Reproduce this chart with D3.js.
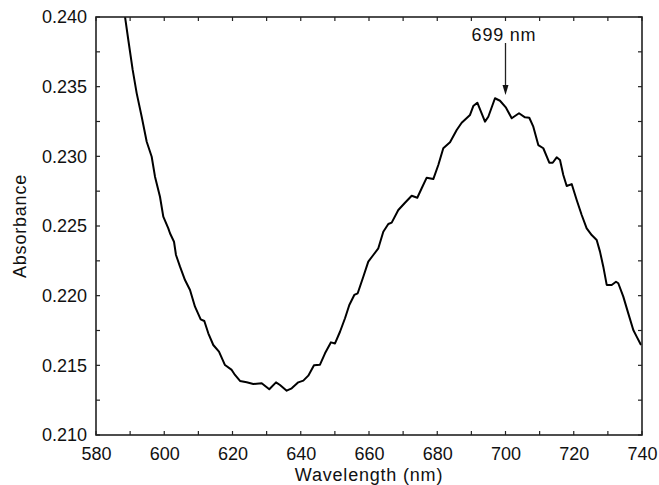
<!DOCTYPE html>
<html>
<head>
<meta charset="utf-8">
<script src="https://cdn.jsdelivr.net/npm/d3@7"></script>
<style>
  html, body { margin: 0; padding: 0; background: #fff; }
  text { font-family: "Liberation Sans", Arial, Helvetica, sans-serif; fill: #111; }
</style>
</head>
<body>
<svg id="chart" width="659" height="485"></svg>
<script>
// ---- data ----
const wavelength = [
  588.50, 589.47, 590.75, 591.93, 593.39, 594.86, 596.32, 597.29, 598.75, 599.72,
  601.19, 601.68, 602.86, 603.44, 604.62, 606.08, 607.55, 609.01, 610.68, 611.74,
  612.91, 614.37, 616.04, 617.80, 619.77, 620.73, 622.20, 624.16, 626.09, 628.56,
  630.78, 632.75, 633.92, 635.88, 637.35, 639.28, 640.75, 642.21, 643.88, 645.64,
  647.11, 648.86, 650.04, 651.50, 652.97, 654.23, 655.69, 656.69, 658.33, 659.79,
  661.26, 662.73, 664.19, 665.66, 666.65, 668.59, 670.55, 672.51, 674.15, 675.44,
  676.91, 678.84, 680.31, 681.77, 683.74, 685.70, 687.16, 689.60, 690.56, 691.74,
  693.99, 694.96, 696.92, 698.39, 700.15, 701.82, 703.96, 705.71, 706.97, 708.15,
  709.61, 711.08, 712.83, 713.83, 715.00, 715.97, 716.94, 717.93, 719.40, 720.86,
  722.33, 723.79, 725.26, 726.72, 727.69, 728.66, 729.66, 731.12, 732.38, 733.05,
  734.52, 735.98, 737.45, 738.44, 739.71
];
const absorbance = [
  0.24002, 0.23835, 0.23620, 0.23452, 0.23284, 0.23105, 0.22997, 0.22854, 0.22710, 0.22567,
  0.22483, 0.22448, 0.22387, 0.22292, 0.22208, 0.22112, 0.22041, 0.21921, 0.21830, 0.21818,
  0.21730, 0.21646, 0.21598, 0.21502, 0.21467, 0.21431, 0.21388, 0.21378, 0.21366, 0.21371,
  0.21328, 0.21378, 0.21359, 0.21318, 0.21335, 0.21378, 0.21390, 0.21426, 0.21500, 0.21505,
  0.21586, 0.21665, 0.21657, 0.21741, 0.21838, 0.21933, 0.22005, 0.22017, 0.22136, 0.22244,
  0.22292, 0.22340, 0.22459, 0.22514, 0.22524, 0.22615, 0.22667, 0.22717, 0.22703, 0.22771,
  0.22847, 0.22837, 0.22938, 0.23058, 0.23101, 0.23189, 0.23241, 0.23297, 0.23361, 0.23385,
  0.23249, 0.23284, 0.23417, 0.23399, 0.23349, 0.23273, 0.23309, 0.23280, 0.23277, 0.23213,
  0.23081, 0.23058, 0.22954, 0.22954, 0.22993, 0.22974, 0.22866, 0.22787, 0.22801, 0.22687,
  0.22579, 0.22483, 0.22435, 0.22400, 0.22316, 0.22208, 0.22077, 0.22077, 0.22100, 0.22089,
  0.21993, 0.21873, 0.21754, 0.21706, 0.21646
];
const xTicks = [580, 600, 620, 640, 660, 680, 700, 720, 740];
const xMinorTicks = [590, 610, 630, 650, 670, 690, 710, 730];
const yTicks = [0.210, 0.215, 0.220, 0.225, 0.230, 0.235, 0.240];
const yMinorTicks = [0.2125, 0.2175, 0.2225, 0.2275, 0.2325, 0.2375];
const xLabel = "Wavelength (nm)";
const yLabel = "Absorbance";
const annotationText = "699 nm";
const annotationWavelength = [700];
const annotationTipAbsorbance = [0.2344];

// ---- drawing ----
const svg = d3.select("#chart");
const margin = { left: 96, right: 17, top: 17, bottom: 50 };
const W = 659, H = 485;
const x = d3.scaleLinear().domain([580, 740]).range([margin.left, W - margin.right]);
const y = d3.scaleLinear().domain([0.210, 0.240]).range([H - margin.bottom, margin.top]);

const data = wavelength.map((w, i) => ({ w, a: absorbance[i] }));

svg.append("defs").append("clipPath").attr("id", "clip")
  .append("rect")
  .attr("x", x(580)).attr("y", y(0.240))
  .attr("width", x(740) - x(580)).attr("height", y(0.210) - y(0.240));

// curve
svg.append("path")
  .datum(data)
  .attr("clip-path", "url(#clip)")
  .attr("fill", "none")
  .attr("stroke", "#000")
  .attr("stroke-width", 2)
  .attr("stroke-linejoin", "round")
  .attr("d", d3.line().x(d => x(d.w)).y(d => y(d.a)));

const tickLen = 4;
const axisColor = "#222";
const fmt = d3.format(".3f");

// bottom axis (labels + inward ticks)
const bottom = svg.append("g").attr("transform", `translate(0,${y(0.210)})`)
  .call(d3.axisBottom(x).tickValues(xTicks).tickSize(0).tickPadding(12).tickFormat(d3.format("d")));
bottom.select(".domain").remove();
bottom.selectAll("text").attr("font-size", 18).attr("fill", "#111")
  .attr("font-family", "Liberation Sans, Arial, sans-serif");

// left axis labels
const left = svg.append("g").attr("transform", `translate(${x(580)},0)`)
  .call(d3.axisLeft(y).tickValues(yTicks).tickSize(0).tickPadding(9).tickFormat(fmt));
left.select(".domain").remove();
left.selectAll("text").attr("font-size", 18).attr("fill", "#111")
  .attr("font-family", "Liberation Sans, Arial, sans-serif");

// inward ticks on all four sides
const allX = xTicks.concat(xMinorTicks);
const allY = yTicks.concat(yMinorTicks);
const tg = svg.append("g").attr("stroke", axisColor).attr("stroke-width", 1.2);
allX.forEach(v => {
  tg.append("line").attr("x1", x(v)).attr("x2", x(v)).attr("y1", y(0.210)).attr("y2", y(0.210) - tickLen);
  tg.append("line").attr("x1", x(v)).attr("x2", x(v)).attr("y1", y(0.240)).attr("y2", y(0.240) + tickLen);
});
allY.forEach(v => {
  tg.append("line").attr("x1", x(580)).attr("x2", x(580) + tickLen).attr("y1", y(v)).attr("y2", y(v));
  tg.append("line").attr("x1", x(740)).attr("x2", x(740) - tickLen).attr("y1", y(v)).attr("y2", y(v));
});

// frame
svg.append("rect")
  .attr("x", x(580)).attr("y", y(0.240))
  .attr("width", x(740) - x(580)).attr("height", y(0.210) - y(0.240))
  .attr("fill", "none").attr("stroke", axisColor).attr("stroke-width", 1.6);

// axis titles
svg.append("text")
  .attr("x", (x(580) + x(740)) / 2).attr("y", 481)
  .attr("text-anchor", "middle").attr("font-size", 18).attr("letter-spacing", 0.8)
  .text(xLabel);
svg.append("text")
  .attr("transform", `translate(26,${(y(0.210) + y(0.240)) / 2}) rotate(-90)`)
  .attr("text-anchor", "middle").attr("font-size", 18).attr("letter-spacing", 0.8)
  .text(yLabel);

// annotation arrow
const ax = x(annotationWavelength[0]);
const tipY = y(annotationTipAbsorbance[0]);
svg.append("line")
  .attr("x1", ax).attr("x2", ax).attr("y1", tipY - 52).attr("y2", tipY - 8)
  .attr("stroke", "#222").attr("stroke-width", 1.3);
svg.append("path")
  .attr("d", `M${ax - 3},${tipY - 10} L${ax + 3},${tipY - 10} L${ax},${tipY} Z`)
  .attr("fill", "#111");
svg.append("text")
  .attr("x", ax - 1.5).attr("y", tipY - 54.5)
  .attr("text-anchor", "middle").attr("font-size", 18).attr("letter-spacing", 0.8)
  .text(annotationText);
</script>
</body>
</html>
